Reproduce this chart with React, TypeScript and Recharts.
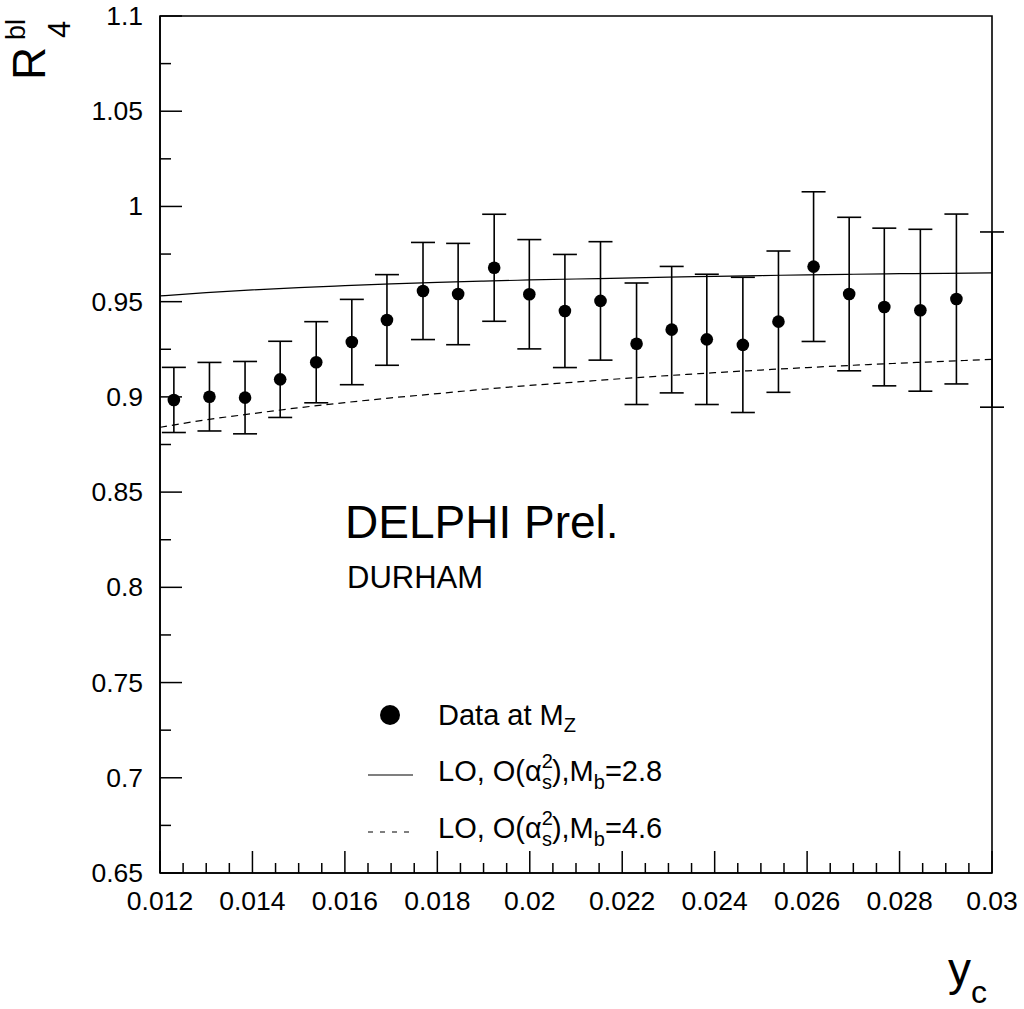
import { ComposedChart, XAxis, YAxis, Scatter, ErrorBar, Line, ReferenceArea } from 'recharts';

const FONT = '"Liberation Sans", Arial, Helvetica, sans-serif';

// measured R4 points (y_c bin centres)
const yc = [
    0.01230, 0.01307, 0.01384, 0.01460, 0.01538, 0.01615, 0.01691, 0.01769,
    0.01845, 0.01923, 0.01999, 0.02076, 0.02153, 0.02231, 0.02307, 0.02383,
    0.02461, 0.02538, 0.02614, 0.02691, 0.02767, 0.02845, 0.02923, 0.03000
];
const r4 = [
    0.8984, 0.9001, 0.8996, 0.9092, 0.9182, 0.9288, 0.9404, 0.9556,
    0.9540, 0.9678, 0.9539, 0.9451, 0.9504, 0.9279, 0.9353, 0.9302,
    0.9273, 0.9395, 0.9684, 0.9540, 0.9472, 0.9455, 0.9514, 0.9406
];
const r4Err = [
    0.0171, 0.0180, 0.0190, 0.0200, 0.0213, 0.0224, 0.0238, 0.0255,
    0.0266, 0.0281, 0.0287, 0.0297, 0.0311, 0.0319, 0.0332, 0.0342,
    0.0355, 0.0371, 0.0393, 0.0403, 0.0414, 0.0425, 0.0446, 0.0460
];

// LO predictions
const curveYc = [
    0.012, 0.013, 0.014, 0.015, 0.016, 0.017, 0.018, 0.019, 0.020, 0.021,
    0.022, 0.023, 0.024, 0.025, 0.026, 0.027, 0.028, 0.029, 0.030
];
const loMb28 = [
    0.9530, 0.9547, 0.9562, 0.9574, 0.9584, 0.9593, 0.9601, 0.9608, 0.9614, 0.9619,
    0.9624, 0.9629, 0.9633, 0.9637, 0.9641, 0.9644, 0.9647, 0.9649, 0.9651
];
const loMb46 = [
    0.8840, 0.8880, 0.8912, 0.8943, 0.8970, 0.8995, 0.9017, 0.9040, 0.9060, 0.9078,
    0.9096, 0.9112, 0.9127, 0.9141, 0.9154, 0.9166, 0.9177, 0.9187, 0.9197
];

const xMajorTicks = [0.012, 0.014, 0.016, 0.018, 0.02, 0.022, 0.024, 0.026, 0.028, 0.03];
const xMinorTicks = [
    0.0125, 0.013, 0.0135, 0.0145, 0.015, 0.0155, 0.0165, 0.017, 0.0175,
    0.0185, 0.019, 0.0195, 0.0205, 0.021, 0.0215, 0.0225, 0.023, 0.0235,
    0.0245, 0.025, 0.0255, 0.0265, 0.027, 0.0275, 0.0285, 0.029, 0.0295
];
const yMajorTicks = [0.65, 0.7, 0.75, 0.8, 0.85, 0.9, 0.95, 1, 1.05, 1.1];
const yMinorTicks = [0.675, 0.725, 0.775, 0.825, 0.875, 0.925, 0.975, 1.025, 1.075];

const points = yc.map((x, i) => ({x, y: r4[i], err: r4Err[i], hidden: x >= 0.03}));
const curve28 = curveYc.map((x, i) => ({x, y: loMb28[i]}));
const curve46 = curveYc.map((x, i) => ({x, y: loMb46[i]}));

const isMajor = (list: number[], v: number) => list.some(t => Math.abs(t - v) < 1e-9);
const fmt = (v: number) => `${+v.toFixed(4)}`;

const XTick = ({x, y, payload}: any) => {
    const major = isMajor(xMajorTicks, payload.value);
    return (
        <g>
            <line x1={x} x2={x} y1={y} y2={y - (major ? 22 : 10)} stroke="#000" strokeWidth={1.5}/>
            {major && (
                <text x={x} y={y + 37} textAnchor="middle" fontSize={26.5} fontFamily={FONT} fill="#000">
                    {fmt(payload.value)}
                </text>
            )}
        </g>
    );
};

const YTick = ({x, y, payload}: any) => {
    const major = isMajor(yMajorTicks, payload.value);
    return (
        <g>
            <line x1={x} x2={x + (major ? 22 : 11)} y1={y} y2={y} stroke="#000" strokeWidth={1.5}/>
            {major && (
                <text x={x - 17} y={y + 9} textAnchor="end" fontSize={26.5} fontFamily={FONT} fill="#000">
                    {fmt(payload.value)}
                </text>
            )}
        </g>
    );
};

const Dot = ({cx, cy, payload}: any) => {
    if (payload?.hidden) return null;
    return <circle cx={cx} cy={cy} r={6.3} fill="#000"/>;
};

const LoLabel = ({y, mb}: {y: number; mb: string}) => (
    <text x={438} y={y} fontSize={29}>
        LO, O(α<tspan dy={-13} fontSize={20}>2</tspan>
        <tspan dx={-11} dy={21} fontSize={20}>s</tspan>
        <tspan dy={-8}>),M</tspan>
        <tspan dy={8} fontSize={20}>b</tspan>
        <tspan dy={-8}>={mb}</tspan>
    </text>
);

export default function App() {
    return (
        <div style={{position: 'absolute', left: 0, top: 0, width: 1024, height: 1009, background: '#fff'}}>
            <ComposedChart width={1024} height={1009} margin={{top: 16, right: 32, bottom: 0, left: 0}}>
                <XAxis
                    type="number"
                    dataKey="x"
                    domain={[0.012, 0.03]}
                    allowDataOverflow
                    ticks={[...xMajorTicks, ...xMinorTicks]}
                    interval={0}
                    height={136}
                    tickSize={0}
                    tickMargin={0}
                    tickLine={false}
                    axisLine={{stroke: '#000', strokeWidth: 1.6}}
                    tick={<XTick/>}
                />
                <YAxis
                    type="number"
                    dataKey="y"
                    domain={[0.65, 1.1]}
                    allowDataOverflow
                    ticks={[...yMajorTicks, ...yMinorTicks]}
                    interval={0}
                    width={160}
                    tickSize={0}
                    tickMargin={0}
                    tickLine={false}
                    axisLine={{stroke: '#000', strokeWidth: 1.6}}
                    tick={<YTick/>}
                />
                <ReferenceArea x1={0.012} x2={0.03} y1={0.65} y2={1.1} fill="none" stroke="#000" strokeWidth={1.6}/>
                <Line
                    data={curve28}
                    dataKey="y"
                    type="monotone"
                    stroke="#000"
                    strokeWidth={1.2}
                    dot={false}
                    isAnimationActive={false}
                />
                <Line
                    data={curve46}
                    dataKey="y"
                    type="monotone"
                    stroke="#000"
                    strokeWidth={1.2}
                    strokeDasharray="7 5"
                    dot={false}
                    isAnimationActive={false}
                />
                <Scatter data={points} dataKey="y" shape={<Dot/>} isAnimationActive={false}>
                    <ErrorBar dataKey="err" direction="y" width={12} stroke="#000" strokeWidth={1.6}/>
                </Scatter>
            </ComposedChart>

            <svg
                width={1024}
                height={1009}
                style={{position: 'absolute', left: 0, top: 0, pointerEvents: 'none'}}
                fontFamily={FONT}
                fill="#000"
            >
                {/* axis titles */}
                <text transform="translate(45,80) rotate(-90)" fontSize={46}>R</text>
                <text transform="translate(25,40) rotate(-90)" fontSize={27}>bl</text>
                <text transform="translate(70,38) rotate(-90)" fontSize={31}>4</text>
                <text x={948} y={985} fontSize={46}>y</text>
                <text x={971} y={1003} fontSize={32}>c</text>

                <text x={345} y={538} fontSize={46}>DELPHI Prel.</text>
                <text x={347} y={588} fontSize={31}>DURHAM</text>

                {/* legend */}
                <circle cx={390} cy={715} r={10}/>
                <text x={438} y={725} fontSize={29}>
                    Data at M<tspan dy={7} fontSize={20}>Z</tspan>
                </text>
                <line x1={368} x2={413} y1={775} y2={775} stroke="#000" strokeWidth={1.2}/>
                <LoLabel y={781} mb="2.8"/>
                <line x1={368} x2={413} y1={832} y2={832} stroke="#000" strokeWidth={1.2} strokeDasharray="5 7"/>
                <LoLabel y={838} mb="4.6"/>
            </svg>
        </div>
    );
}
